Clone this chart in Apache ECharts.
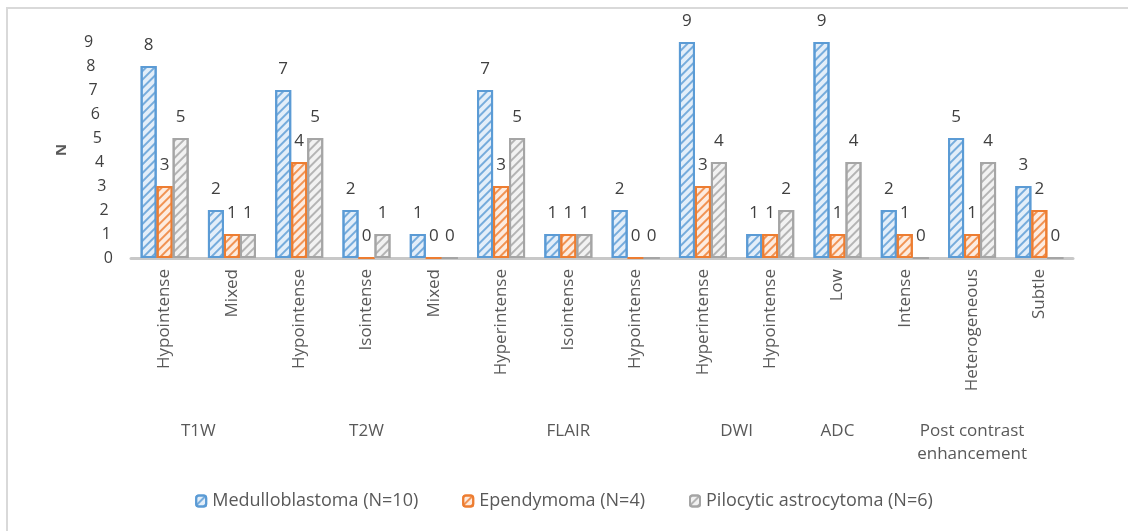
<!DOCTYPE html>
<html>
<head>
<meta charset="utf-8">
<script src="https://cdn.jsdelivr.net/npm/echarts@6/dist/echarts.min.js"></script>
<style>
  html, body { margin: 0; padding: 0; background: #fff; }
  #chart { width: 1128px; height: 531px; }
</style>
</head>
<body>
<div id="chart"></div>
<script>
// MRI signal characteristics per tumour type (number of patients)
const categories = [
  'Hypointense', 'Mixed',
  'Hypointense', 'Isointense', 'Mixed',
  'Hyperintense', 'Isointense', 'Hypointense',
  'Hyperintense', 'Hypointense',
  'Low',
  'Intense', 'Heterogeneous', 'Subtle'
];
const groupNames = ['T1W', 'T2W', 'FLAIR', 'DWI', 'ADC', 'Post contrast\nenhancement'];
const groupSizes = [2, 3, 3, 2, 1, 3];

const medulloblastoma = [8, 2, 7, 2, 1, 7, 1, 2, 9, 1, 9, 2, 5, 3];
const ependymoma      = [3, 1, 4, 0, 0, 3, 1, 0, 3, 1, 1, 1, 1, 2];
const pilocytic       = [5, 1, 5, 1, 0, 5, 1, 0, 4, 2, 4, 0, 4, 0];

const seriesNames = ['Medulloblastoma (N=10)', 'Ependymoma (N=4)', 'Pilocytic astrocytoma (N=6)'];
const yTicks = [0, 1, 2, 3, 4, 5, 6, 7, 8, 9];

// centre of each modality group, in category units
const groupCentres = {};
let start = 0;
groupSizes.forEach((n, i) => {
  groupCentres[(start + n / 2).toFixed(1)] = groupNames[i];
  start += n;
});

const FONT = 'Open Sans';
const TEXT = '#595959';

function hatch(color) {
  return {
    symbol: 'rect',
    symbolSize: 1,
    dashArrayX: [1, 0],
    dashArrayY: [1.2, 3.8],
    rotation: -Math.PI / 4,
    color: color
  };
}

function barSeries(name, data, fill, border, decalColor) {
  return {
    name: name,
    type: 'bar',
    data: data,
    barWidth: 16,
    barGap: '0%',
    itemStyle: {
      color: fill,
      borderColor: border,
      borderWidth: 2,
      decal: hatch(decalColor)
    },
    label: {
      show: true,
      position: 'top',
      distance: 12,
      fontFamily: FONT,
      fontSize: 17,
      color: '#404040'
    }
  };
}

// rich styles that push higher tick labels further left
const yRich = {};
yTicks.forEach(v => {
  yRich['p' + v] = { fontFamily: FONT, fontSize: 16, color: '#404040', padding: [0, v * 2.2, 0, 0] };
});

const chart = echarts.init(document.getElementById('chart'), null, { renderer: 'canvas' });

chart.setOption({
  backgroundColor: '#ffffff',
  animation: false,
  textStyle: { fontFamily: FONT },
  graphic: [{
    type: 'rect',
    shape: { x: 7, y: 8, width: 1200, height: 600 },
    style: { fill: 'none', stroke: '#d9d9d9', lineWidth: 2 },
    silent: true,
    z: -1
  }],
  grid: { left: 131, right: 55, top: 42, bottom: 273, containLabel: false },
  legend: {
    bottom: 16,
    left: 'center',
    itemWidth: 10,
    itemHeight: 11,
    itemGap: 44,
    textStyle: { fontFamily: FONT, fontSize: 18, color: TEXT, padding: [0, 0, 0, 1] },
    data: seriesNames
  },
  xAxis: [{
    type: 'category',
    data: categories,
    axisLine: { show: true, lineStyle: { color: '#c8c8c8', width: 3 } },
    axisTick: { show: false },
    axisLabel: {
      rotate: 90,
      interval: 0,
      margin: 11,
      fontFamily: FONT,
      fontSize: 17,
      color: TEXT
    }
  }, {
    type: 'value',
    min: 0,
    max: 14,
    interval: 0.5,
    position: 'bottom',
    offset: 162,
    axisLine: { show: false },
    axisTick: { show: false },
    splitLine: { show: false },
    axisLabel: {
      margin: 0,
      fontFamily: FONT,
      fontSize: 17,
      lineHeight: 23,
      color: TEXT,
      showMinLabel: true,
      showMaxLabel: true,
      hideOverlap: false,
      formatter: v => groupCentres[v.toFixed(1)] || ''
    }
  }],
  yAxis: {
    type: 'value',
    min: 0,
    max: 9,
    interval: 1,
    name: 'N',
    nameLocation: 'middle',
    nameRotate: 90,
    nameGap: 62,
    nameTextStyle: { fontFamily: FONT, fontSize: 15, fontWeight: 'bold', color: TEXT },
    axisLine: { show: false },
    axisTick: { show: false },
    splitLine: { show: false },
    axisLabel: {
      margin: 18,
      formatter: v => '{p' + v + '|' + v + '}',
      rich: yRich
    }
  },
  series: [
    barSeries(seriesNames[0], medulloblastoma, '#e3eef9', '#5b9bd5', 'rgba(91,155,213,0.8)'),
    barSeries(seriesNames[1], ependymoma, '#fdebdf', '#ed7d31', 'rgba(237,125,49,0.8)'),
    barSeries(seriesNames[2], pilocytic, '#f2f2f2', '#a5a5a5', 'rgba(165,165,165,0.8)')
  ]
});
</script>
</body>
</html>
